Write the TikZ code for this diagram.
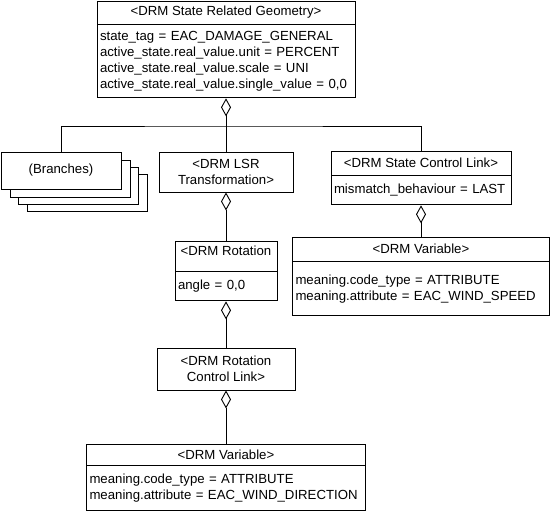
\documentclass[tikz,border=0pt]{standalone}
\usepackage{fontspec}
\setmainfont{Liberation Sans}
\usepackage{tikz}
\usetikzlibrary{shapes,arrows.meta,positioning,calc}
\newcommand{\umlfont}{\fontsize{13.2}{16}\selectfont}

\begin{document}
\begin{tikzpicture}[x=1pt, y=-1pt, line width=0.9pt,
  box/.style={draw, fill=white, font=\umlfont, align=center, inner sep=0pt},
  attrs/.style={draw, fill=white, font=\umlfont, align=left, inner xsep=3pt, inner ysep=0pt},
  aggr/.style={-{Diamond[open, length=18pt, width=10pt]}}]
  \useasboundingbox (0,0) rectangle (550,511);

  \node[box, minimum width=258, minimum height=23] (srg) at (226,12.5) {<DRM State Related Geometry>};
  \node[attrs, below=0pt of srg, text width=252, minimum height=73] (srgattr) {state\_tag = EAC\_DAMAGE\_GENERAL\\active\_state.real\_value.unit = PERCENT\\active\_state.real\_value.scale = UNI\\active\_state.real\_value.single\_value = 0,0};

  \foreach \i/\dx/\dy in {3/26/22, 2/17/15, 1/9/8}
    \node[box, minimum width=120, minimum height=37] (br\i) at (61+\dx,170.5+\dy) {};
  \node[box, minimum width=120, minimum height=37] (branches) at (61,170.5) {(Branches)};

  \node[box, minimum width=134, minimum height=40] (lsr) at (226,172) {<DRM LSR\\Transformation>};

  \node[box, minimum width=180, minimum height=24] (scl) at (421,163) {<DRM State Control Link>};
  \node[attrs, below=0pt of scl, text width=174, minimum height=29] (sclattr) {mismatch\_behaviour = LAST};

  \node[box, minimum width=257, minimum height=24] (vara) at (421,249) {<DRM Variable>};
  \node[attrs, below=0pt of vara, text width=251, minimum height=54] (varaattr) {meaning.code\_type = ATTRIBUTE\\meaning.attribute = EAC\_WIND\_SPEED};

  \node[box, minimum width=102, minimum height=30, text depth=10pt] (rot) at (226,256) {<DRM Rotation};
  \node[attrs, below=0pt of rot, text width=96, minimum height=29] (rotattr) {angle = 0,0};

  \node[box, minimum width=138, minimum height=42] (rcl) at (226,369) {<DRM Rotation\\Control Link>};

  \node[box, minimum width=279, minimum height=21] (varb) at (226,454.5) {<DRM Variable>};
  \node[attrs, below=0pt of varb, text width=273, minimum height=45] (varbattr) {meaning.code\_type = ATTRIBUTE\\meaning.attribute = EAC\_WIND\_DIRECTION};

  \coordinate (bus) at (226,126);
  \draw[aggr] (bus) -- (srgattr);
  \draw (branches) |- (bus) -| (scl);
  \draw (lsr) -- (bus);
  \draw[aggr] (rot) -- (lsr);
  \draw[aggr] (vara) -- (sclattr);
  \draw[aggr] (rcl) -- (rotattr);
  \draw[aggr] (varb) -- (rcl);
\end{tikzpicture}
\end{document}
